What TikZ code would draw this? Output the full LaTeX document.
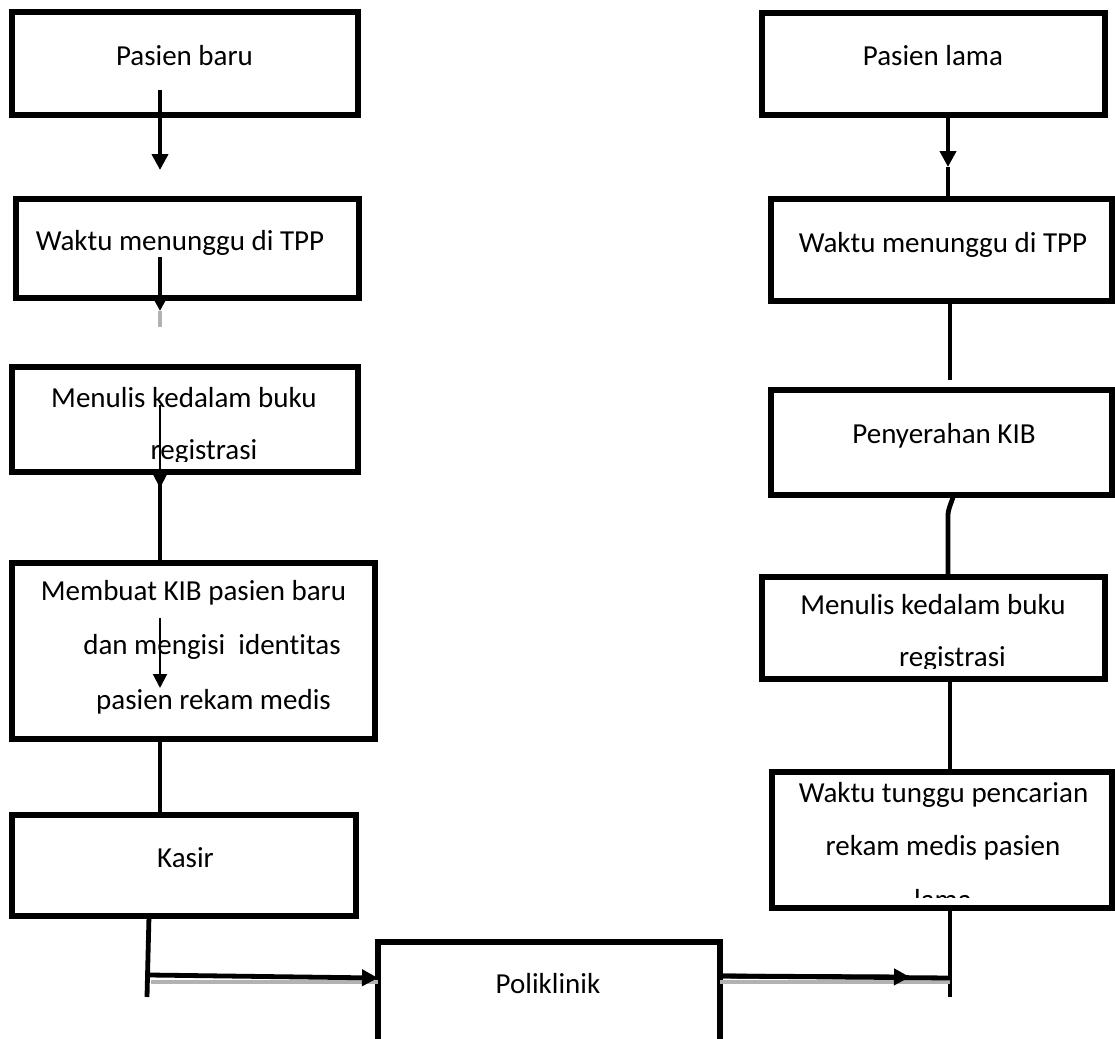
\documentclass[tikz,border=0pt]{standalone}
\usepackage{fontspec}
\setmainfont{Carlito}[Ligatures=NoCommon]
\usetikzlibrary{arrows.meta,fit}
\begin{document}
\begin{tikzpicture}[x=0.5pt,y=-0.5pt,
  box/.style={draw, line width=2.6pt, inner sep=0pt, outer sep=0pt},
  lbl/.style={anchor=base, inner sep=0pt, font=\fontsize{14.5pt}{17pt}\selectfont},
  thickconn/.style={line width=2.4pt},
  thinconn/.style={line width=1pt},
  head/.style={-{Triangle[width=8pt,length=8pt]}},
  thinhead/.style={-{Triangle[width=7pt,length=7pt]}},
  shade/.style={gray!60, line width=1.6pt}]
\useasboundingbox (0,0) rectangle (1115,1039);
\clip (0,0) rectangle (1115,1039);

% ---------- boxes ----------
\node[box, fit={(12,12)(358,115)}] (pb) {};
\node[box, fit={(16,199)(359,298)}] (wL) {};
\node[box, fit={(12,367)(358,472)}] (mL) {};
\node[box, fit={(12,563)(375,739)}] (kib) {};
\node[box, fit={(12,815)(356,916)}] (ks) {};
\node[box, fit={(378,942)(720,1070)}] (poli) {};
\node[box, fit={(762,13)(1105,115)}] (pl) {};
\node[box, fit={(771,199)(1112,301)}] (wR) {};
\node[box, fit={(771,390)(1112,495)}] (py) {};
\node[box, fit={(762,577)(1105,679)}] (mR) {};
\node[box, fit={(772,772)(1112,908)}] (wt) {};

% ---------- texts ----------
\node[lbl] (pbt) at (184.5,65) {Pasien baru};
\node[lbl] (wLt) at (180,250) {Waktu menunggu di TPP};
\begin{scope}
  \clip (14,369) rectangle (356,461);
  \node[lbl] (mLt1) at (184,407) {Menulis kedalam buku};
  \node[lbl] (mLt2) at (204,459) {registrasi};
\end{scope}
\node[lbl] (kibt1) at (193.5,600) {Membuat KIB pasien baru};
\node[lbl] (kibt2) at (212,654) {dan mengisi\ \ identitas};
\node[lbl] (kibt3) at (213.5,709) {pasien rekam medis};
\node[lbl] (kst) at (185.5,867) {Kasir};
\node[lbl] (polit) at (548,993) {Poliklinik};
\node[lbl] (plt) at (933,65) {Pasien lama};
\node[lbl] (wRt) at (943,252) {Waktu menunggu di TPP};
\node[lbl] (pyt) at (944,443) {Penyerahan KIB};
\begin{scope}
  \clip (764,579) rectangle (1103,668);
  \node[lbl] (mRt1) at (933,614) {Menulis kedalam buku};
  \node[lbl] (mRt2) at (952.5,666) {registrasi};
\end{scope}
\begin{scope}
  \clip (774,774) rectangle (1110,897);
  \node[lbl] (wtt1) at (943.5,802) {Waktu tunggu pencarian};
  \node[lbl] (wtt2) at (943,855) {rekam medis pasien};
  \node[lbl] (wtt3) at (943,909) {lama};
\end{scope}

% ---------- left column connectors ----------
\coordinate (a1s) at (160,90);   \coordinate (a1e) at (160,170);
\draw[thickconn,head] (a1s) -- (a1e);
\coordinate (a2s) at (160,257);  \coordinate (a2e) at (160,311);
\coordinate (a2g) at (160,327);
\draw[gray!60, line width=2pt] (a2e) -- (a2g);
\draw[thickconn,head] (a2s) -- (a2e);
\coordinate (xL) at (160,0);
\draw[thickconn] (mL.south -| xL) -- (kib.north -| xL);
\coordinate (a3s) at (160,405);  \coordinate (a3e) at (160,488);
\draw[thinconn,thinhead] (a3s) -- (a3e);
\coordinate (a4s) at (160,618);  \coordinate (a4e) at (160,688);
\draw[thinconn,thinhead] (a4s) -- (a4e);
\draw[thickconn] (kib.south -| xL) -- (ks.north -| xL);
\coordinate (kb) at (149,0);     \coordinate (kbe) at (147,997);
\draw[thickconn] (ks.south -| kb) -- (kbe);
\coordinate (h1s) at (149,975);  \coordinate (h1y) at (0,978);
\coordinate (h1sh) at (151,982);
\draw[shade] (h1sh) -- (poli.west |- h1sh);
\draw[thickconn,head] (h1s) -- (poli.west |- h1y);

% ---------- right column connectors ----------
\coordinate (r1) at (948,0);     \coordinate (r1h) at (948,167);
\draw[thickconn] (r1h) -- (wR.north -| r1);
\draw[thickconn,head] (pl.south -| r1) -- (r1h);
\coordinate (r2) at (950,0);     \coordinate (r2e) at (950,380);
\draw[thickconn] (wR.south -| r2) -- (r2e);
\coordinate (r3a) at (953,497);  \coordinate (r3b) at (948,516);
\coordinate (r3) at (948,0);
\draw[thickconn] (r3a) to[out=-105,in=90] (r3b) -- (mR.north -| r3);
\draw[thickconn] (mR.south -| r2) -- (wt.north -| r2);
\coordinate (r5e) at (950,997);
\draw[thickconn] (wt.south -| r2) -- (r5e);
\coordinate (h2y) at (0,976);    \coordinate (h2e) at (950,978);
\coordinate (h2t) at (910,977);  \coordinate (h2sh) at (0,982);
\draw[shade] (poli.east |- h2sh) -- (h2e |- h2sh);
\draw[thickconn] (poli.east |- h2y) -- (h2e);
\draw[thickconn,head] (poli.east |- h2y) -- (h2t);
\end{tikzpicture}
\end{document}
